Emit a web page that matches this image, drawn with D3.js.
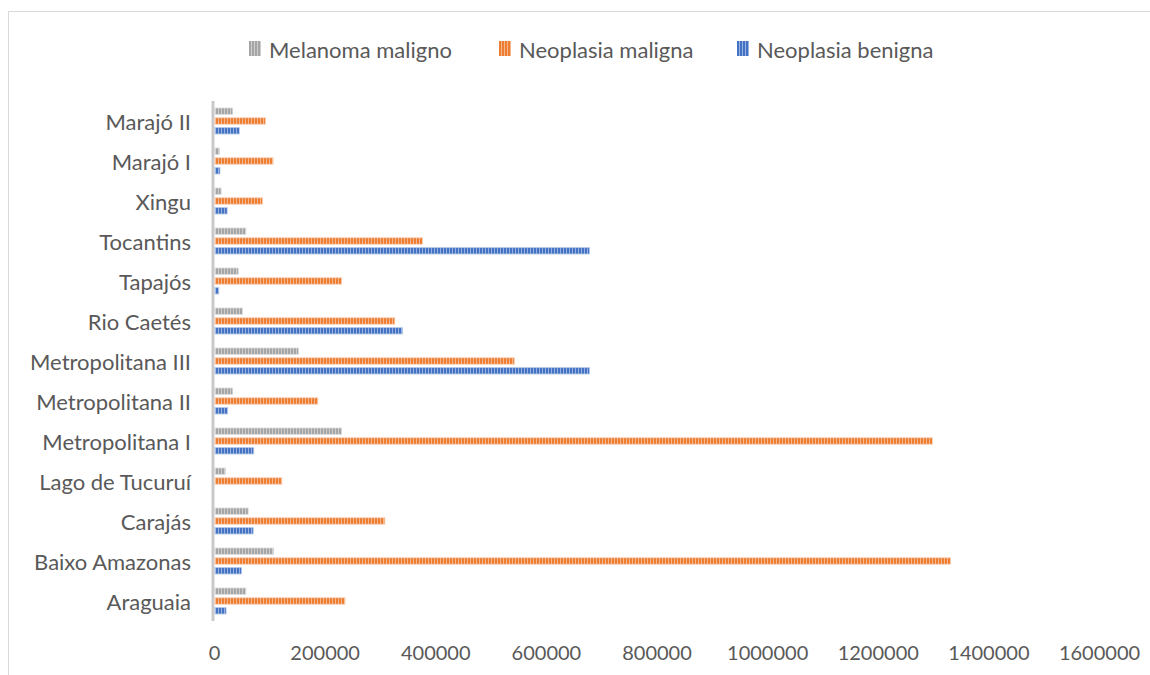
<!DOCTYPE html>
<html>
<head>
<meta charset="utf-8">
<script src="https://cdn.jsdelivr.net/npm/d3@7/dist/d3.min.js"></script>
<style>
  html, body { margin: 0; padding: 0; background: #fff; }
  svg { display: block; }
  text { font-family: Lato, "Open Sans", sans-serif; fill: #595959; }
</style>
</head>
<body>
<svg id="chart" width="1150" height="675"></svg>
<script>
// ---- Data ----
const categories = ["Araguaia", "Baixo Amazonas", "Carajás", "Lago de Tucuruí", "Metropolitana I",
  "Metropolitana II", "Metropolitana III", "Rio Caetés", "Tapajós", "Tocantins", "Xingu", "Marajó I", "Marajó II"];
const seriesNames = ["Melanoma maligno", "Neoplasia maligna", "Neoplasia benigna"];
const melanomaMaligno = [56000, 106000, 60000, 19000, 229000, 32000, 151000, 50000, 42000, 56000, 11000, 8000, 32000];
const neoplasiaMaligna = [235000, 1330000, 307000, 121000, 1297000, 186000, 541000, 325000, 229000, 375000, 86000, 105000, 91000];
const neoplasiaBenigna = [20000, 48000, 69000, 0, 70000, 23000, 677000, 339000, 7000, 677000, 22000, 9000, 44000];
const xTicks = [0, 200000, 400000, 600000, 800000, 1000000, 1200000, 1400000, 1600000];
const seriesColors = ["#a5a5a5", "#ed7d31", "#4472c4"];

const seriesValues = [melanomaMaligno, neoplasiaMaligna, neoplasiaBenigna];

const svg = d3.select("#chart");

// chart frame (clipped at right and bottom like the reference)
svg.append("path")
  .attr("d", "M8.5,676 L8.5,11.5 L1151,11.5")
  .attr("fill", "none").attr("stroke", "#d9d9d9").attr("stroke-width", 1);

// striped patterns
const defs = svg.append("defs");
seriesColors.forEach((c, i) => {
  const p = defs.append("pattern").attr("id", "pat" + i)
    .attr("patternUnits", "userSpaceOnUse").attr("width", 3).attr("height", 3);
  p.append("rect").attr("width", 3).attr("height", 3).attr("fill", d3.interpolateRgb(c, "#ffffff")(0.45));
  p.append("rect").attr("width", 2).attr("height", 3).attr("fill", c);
});

const x = d3.scaleLinear().domain([0, 1600000]).range([215, 1100]);
const y = d3.scaleBand().domain(categories.slice().reverse()).range([101, 621]).padding(0);
const sub = d3.scaleBand().domain(seriesNames).range([7, 33]).paddingInner(0.35).paddingOuter(0);

// axis line
svg.append("line")
  .attr("x1", 213).attr("x2", 213)
  .attr("y1", 101).attr("y2", 621)
  .attr("stroke", "#c9c9c9").attr("stroke-width", 3);

// bars
const rows = [];
categories.forEach((cat, ci) => {
  seriesNames.forEach((s, si) => rows.push({ cat, s, si, v: seriesValues[si][ci] }));
});
svg.append("g").selectAll("rect").data(rows.filter(d => d.v > 0)).join("rect")
  .attr("x", x(0))
  .attr("y", d => y(d.cat) + sub(d.s))
  .attr("width", d => x(d.v) - x(0))
  .attr("height", sub.bandwidth())
  .attr("fill", d => `url(#pat${d.si})`)
  .attr("stroke", d => d3.interpolateRgb(seriesColors[d.si], "#ffffff")(0.6))
  .attr("stroke-width", 0.8);

// category labels
svg.append("g").selectAll("text").data(categories).join("text")
  .attr("x", 191)
  .attr("y", d => y(d) + y.bandwidth() / 2)
  .attr("text-anchor", "end")
  .attr("dominant-baseline", "central")
  .style("font-size", "22px")
  .text(d => d);

// x axis
const xAxis = d3.axisBottom(x).tickValues(xTicks).tickSize(0).tickPadding(0).tickFormat(d3.format("d"));
const gx = svg.append("g").attr("transform", "translate(-1,646)").call(xAxis);
gx.select(".domain").remove();
gx.selectAll("text").style("font-size", "20px").style("font-family", "Lato, sans-serif").attr("fill", "#595959");

// legend
const legendX = [249, 499, 737];
const lg = svg.append("g").selectAll("g").data(seriesNames).join("g")
  .attr("transform", (d, i) => `translate(${legendX[i]},0)`);
lg.append("rect").attr("x", 0).attr("y", 41).attr("width", 12).attr("height", 15)
  .attr("fill", (d, i) => `url(#pat${i})`);
lg.append("text").attr("x", 20).attr("y", 49).attr("dominant-baseline", "central")
  .style("font-size", "22px").text(d => d);
</script>
</body>
</html>
